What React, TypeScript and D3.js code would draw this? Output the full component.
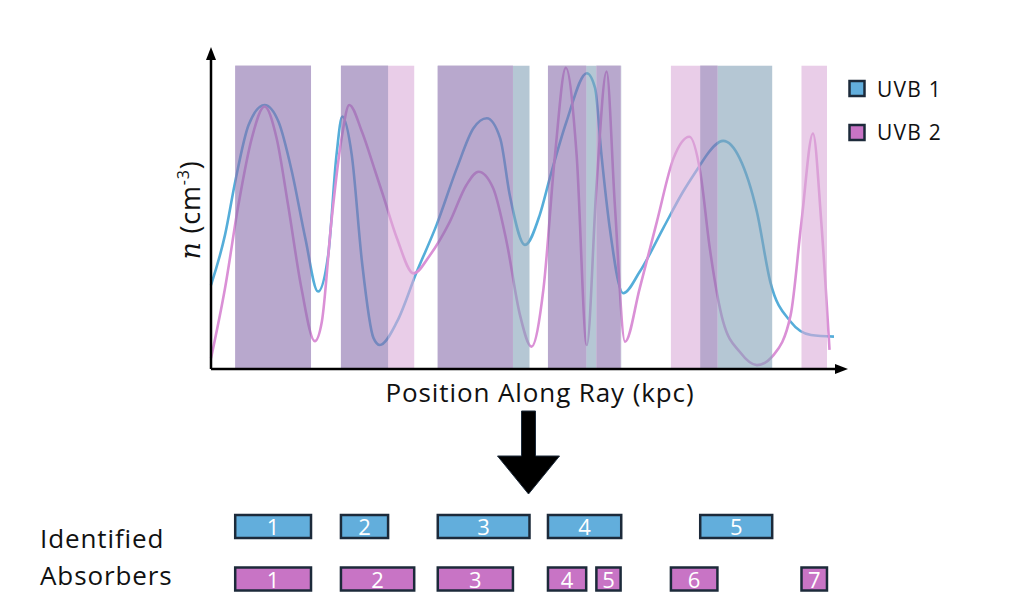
import React from 'react';
import * as d3 from 'd3';

// Density profiles along the ray: [position, n] in arbitrary units (0–100)
const uvb1Profile: [number, number][] = [
  [0, 25.9], [2.2, 41.4], [3.8, 57.8], [5.9, 75.3], [8.4, 81.5], [10.6, 76.3],
  [12.7, 60.9], [14.8, 40.4], [16.8, 23.9], [18.4, 35.2], [19.7, 66.0], [20.6, 77.9],
  [22.1, 66.0], [23.7, 33.1], [25.5, 9.6], [26.5, 7.4], [29.2, 14.6], [32.3, 30.0],
  [35.4, 44.4], [38.6, 62.0], [41.2, 74.3], [43.3, 77.4], [45.4, 71.2], [46.9, 53.7],
  [49.3, 38.3], [51.6, 47.5], [53.2, 59.0], [55.8, 76.3], [59.0, 91.3], [60.3, 86.7],
  [61.3, 66.0], [62.6, 43.5], [64.7, 23.4], [67.3, 30.0], [71.0, 43.5], [74.1, 54.7],
  [76.8, 63.0], [77.8, 66.0], [80.4, 70.4], [83.0, 65.0], [85.7, 48.5], [87.8, 26.9],
  [91.0, 14.6], [94.2, 10.5], [97.8, 10.0],
];

const uvb2Profile: [number, number][] = [
  [0, 3.3], [2.2, 24.9], [4.3, 50.6], [6.4, 71.2], [8.4, 81.0], [10.3, 71.2],
  [12.1, 50.6], [14.2, 24.9], [16.3, 8.6], [17.4, 14.6], [18.9, 45.5], [20.5, 71.2],
  [21.7, 81.5], [23.7, 73.2], [25.7, 61.5], [27.0, 53.7], [29.2, 40.3], [31.8, 29.5],
  [34.4, 35.2], [37.5, 45.5], [40.1, 56.8], [42.0, 60.9], [44.3, 55.8], [46.4, 39.3],
  [48.5, 16.7], [50.3, 6.9], [52.2, 24.9], [54.0, 66.0], [55.7, 93.0], [57.4, 66.0],
  [59.0, 7.4], [60.5, 55.9], [62.1, 91.8], [63.4, 50.6], [65.0, 8.4], [67.3, 24.9],
  [70.0, 45.5], [72.6, 65.0], [75.1, 71.7], [76.8, 60.9], [78.3, 37.3], [80.4, 14.6],
  [83.0, 5.3], [85.7, 1.2], [88.3, 4.3], [91.0, 16.7], [92.7, 45.5], [94.5, 72.7],
  [95.8, 45.5], [97.1, 5.9],
];

// Absorber intervals identified for each background: [start, end]
const uvb1Absorbers: [number, number][] = [
  [3.8, 15.7], [20.4, 27.8], [35.6, 50.0], [52.9, 64.4], [76.8, 88.1],
];
const uvb2Absorbers: [number, number][] = [
  [3.8, 15.7], [20.4, 31.9], [35.6, 47.4], [52.9, 58.9], [60.5, 64.3], [72.2, 79.5], [92.7, 96.7],
];

const seriesNames = ['UVB 1', 'UVB 2'];
const bandTopValue = 93.6;

const W = 1024;
const H = 611;
const FONT = "'Open Sans', 'Liberation Sans', sans-serif";

const blueFill = '#62AEDC';
const pinkFill = '#C874C5';
const blueLine = '#55ADD9';
const pinkLine = '#DA90D6';
const boxStroke = '#1C2A3A';

export default function App() {
  const x = d3.scaleLinear().domain([0, 100]).range([211, 848]);
  const y = d3.scaleLinear().domain([0, 100]).range([369, 45]);

  const line = d3
    .line<[number, number]>()
    .x((d) => x(d[0]))
    .y((d) => y(d[1]))
    .curve(d3.curveMonotoneX);

  // overlap of both sets of absorbers
  const overlaps: [number, number][] = [];
  uvb1Absorbers.forEach((a) =>
    uvb2Absorbers.forEach((b) => {
      const s = Math.max(a[0], b[0]);
      const e = Math.min(a[1], b[1]);
      if (e > s) overlaps.push([s, e]);
    })
  );

  const bandTop = y(bandTopValue);
  const base = y(0);

  const band = (d: [number, number], fill: string, key: string) => (
    <rect key={key} x={x(d[0])} y={bandTop} width={x(d[1]) - x(d[0])} height={base - bandTop} fill={fill} />
  );

  const boxRow = (list: [number, number][], fill: string, top: number, prefix: string) =>
    list.map((d, i) => {
      const x0 = x(d[0]);
      const x1 = x(d[1]);
      return (
        <g key={`${prefix}${i}`}>
          <rect x={x0} y={top} width={x1 - x0} height={23} fill={fill} stroke={boxStroke} strokeWidth={2.5} />
          <text x={(x0 + x1) / 2} y={top + 20} textAnchor="middle" fill="#fff" fontSize={22} fontFamily={FONT}>
            {i + 1}
          </text>
        </g>
      );
    });

  // arrow pointing from the profile down to the absorber list
  const ax = 528.5;
  const arrowPath = `M${ax - 7},411 L${ax + 7},411 L${ax + 7},456 L${ax + 31},456 L${ax},494 L${ax - 31},456 L${ax - 7},456 Z`;

  return (
    <svg width={W} height={H} style={{ position: 'absolute', left: 0, top: 0, background: '#fff' }}>
      {/* profiles */}
      <path d={line(uvb1Profile) || ''} fill="none" stroke={blueLine} strokeWidth={2.6} />
      <path d={line(uvb2Profile) || ''} fill="none" stroke={pinkLine} strokeWidth={2.6} />

      {/* absorber regions, translucent over the profiles */}
      <g opacity={0.6}>
        {uvb1Absorbers.map((d, i) => band(d, '#84A3B9', `b${i}`))}
        {uvb2Absorbers.map((d, i) => band(d, '#DCACD9', `p${i}`))}
        {overlaps.map((d, i) => band(d, '#8A70AD', `o${i}`))}
      </g>

      {/* axes */}
      <line x1={x(0)} y1={y(0)} x2={x(0)} y2={58} stroke="#000" strokeWidth={2.5} />
      <path d={`M${x(0) - 5},60 L${x(0) + 5},60 L${x(0)},47 Z`} fill="#000" />
      <line x1={x(0)} y1={y(0)} x2={836} y2={y(0)} stroke="#000" strokeWidth={2.5} />
      <path d={`M835,${y(0) - 5} L835,${y(0) + 5} L848,${y(0)} Z`} fill="#000" />

      <text x={540} y={402} textAnchor="middle" fontSize={26} letterSpacing={0.9} fontFamily={FONT} fill="#111">
        Position Along Ray (kpc)
      </text>
      <text transform="translate(200,210) rotate(-90)" textAnchor="middle" fontSize={27} letterSpacing={0.8} fontFamily={FONT} fill="#111">
        <tspan fontFamily="'DejaVu Serif', serif" fontStyle="italic">n</tspan>
        <tspan> (cm</tspan>
        <tspan fontSize={16} dy={-11}>-3</tspan>
        <tspan dy={11}>)</tspan>
      </text>

      {/* legend */}
      {seriesNames.map((name, i) => (
        <g key={name}>
          <rect x={849.5} y={81 + i * 44} width={15} height={15} fill={i === 0 ? blueFill : pinkFill} stroke={boxStroke} strokeWidth={2.5} />
          <text x={877} y={97 + i * 43} fontSize={21} letterSpacing={1.2} fontFamily={FONT} fill="#111">
            {name}
          </text>
        </g>
      ))}

      <path d={arrowPath} fill="#000" stroke={boxStroke} strokeWidth={1} />

      {boxRow(uvb1Absorbers, blueFill, 515, 'r1')}
      {boxRow(uvb2Absorbers, pinkFill, 567.5, 'r2')}

      <text x={40} y={548} fontSize={26} letterSpacing={0.9} fontFamily={FONT} fill="#111">Identified</text>
      <text x={40} y={585} fontSize={26} letterSpacing={0.9} fontFamily={FONT} fill="#111">Absorbers</text>
    </svg>
  );
}
